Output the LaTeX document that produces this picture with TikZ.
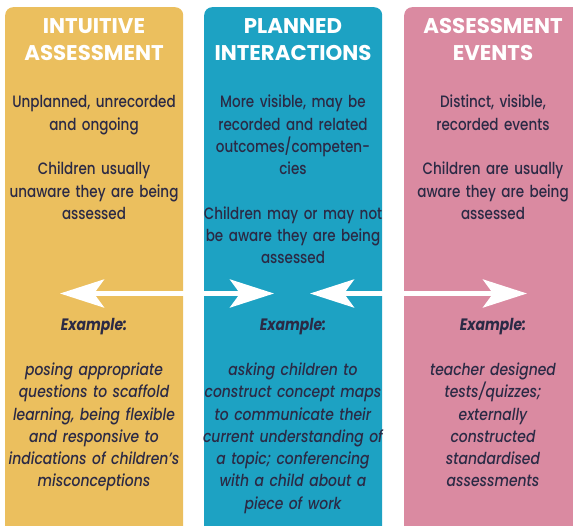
\documentclass[tikz,border=0pt]{standalone}
\usepackage{fontspec}
\setmainfont{Poppins}[FakeStretch=0.82, UprightFont=* Medium, BoldFont=* Bold]
\newfontfamily\headfont{Poppins}
\newfontfamily\exfont{Poppins}[FakeStretch=0.845, ItalicFont=* Medium Italic,
  BoldItalicFont=* Bold Italic]
\usetikzlibrary{arrows.meta}

\definecolor{intuitiveFill}{HTML}{EBBF5E}
\definecolor{plannedFill}{HTML}{1DA2C3}
\definecolor{eventsFill}{HTML}{DA8AA1}
\definecolor{inkDark}{HTML}{2B2A45}

\begin{document}
\begin{tikzpicture}[
  x=1pt, y=-1pt,
  column/.style={draw=none, rounded corners=8pt, inner sep=0pt,
    minimum width=178pt, minimum height=540pt, anchor=north west},
  heading/.style={text=white, align=center, text width=220pt, inner sep=0pt,
    anchor=base, font=\headfont\fontsize{21.3}{26.7}\bfseries\selectfont},
  bodytext/.style={text=inkDark, align=center, text width=220pt, inner sep=0pt,
    anchor=base, font=\fontsize{16.5}{22.3}\selectfont},
  exampletext/.style={bodytext, font=\exfont\fontsize{16.5}{22.3}\itshape\selectfont},
  twoway/.style={draw=white, line width=5pt,
    {Stealth[length=44pt, width=28pt, inset=10pt]}-{Stealth[length=44pt, width=28pt, inset=10pt]}}
]
\useasboundingbox (0,0) rectangle (573,525);
\clip (0,0) rectangle (573,525);

% the three columns
\node[column, fill=intuitiveFill] (intuitive) at (5,7) {};
\node[column, fill=plannedFill]   (planned)   at (204,7) {};
\node[column, fill=eventsFill]    (events)    at (404,7) {};

% headings
\node[heading] (intuitiveHead) at (94,33.3)  {INTUITIVE\\ASSESSMENT};
\node[heading] (plannedHead)   at (293,33.3) {PLANNED\\INTERACTIONS};
\node[heading] (eventsHead)    at (493,33.3) {ASSESSMENT\\EVENTS};

% descriptions
\node[bodytext] (intuitiveDesc) at (94,107.8) {Unplanned, unrecorded\\and ongoing\\[22.3pt]
  Children usually\\unaware they are being\\assessed};
\node[bodytext] (plannedDesc) at (293,107.8) {More visible, may be\\recorded and related\\
  outcomes/competen-\\cies\\[22.3pt]
  Children may or may not\\be aware they are being\\assessed};
\node[bodytext] (eventsDesc) at (493,107.8) {Distinct, visible,\\recorded events\\[22.3pt]
  Children are usually\\aware they are being\\assessed};

% examples
\node[exampletext] (intuitiveEx) at (94,330.8) {\textbf{Example:}\\[22.3pt]
  posing appropriate\\questions to scaffold\\learning, being flexible\\
  and responsive to\\indications of children’s\\misconceptions};
\node[exampletext] (plannedEx) at (293,330.8) {\textbf{Example:}\\[22.3pt]
  asking children to\\construct concept maps\\to communicate their\\
  current understanding of\\a topic; conferencing\\with a child about a\\piece of work};
\node[exampletext] (eventsEx) at (493,330.8) {\textbf{Example:}\\[22.3pt]
  teacher designed\\tests/quizzes;\\externally\\constructed\\standardised\\assessments};

% two-way arrows across the columns
\coordinate (leftTipA)  at (60,293.5);
\coordinate (rightTipA) at (274,293.5);
\coordinate (leftTipB)  at (310,293.5);
\coordinate (rightTipB) at (527,293.5);
\draw[twoway] (leftTipA) -- (rightTipA);
\draw[twoway] (leftTipB) -- (rightTipB);
\end{tikzpicture}
\end{document}
